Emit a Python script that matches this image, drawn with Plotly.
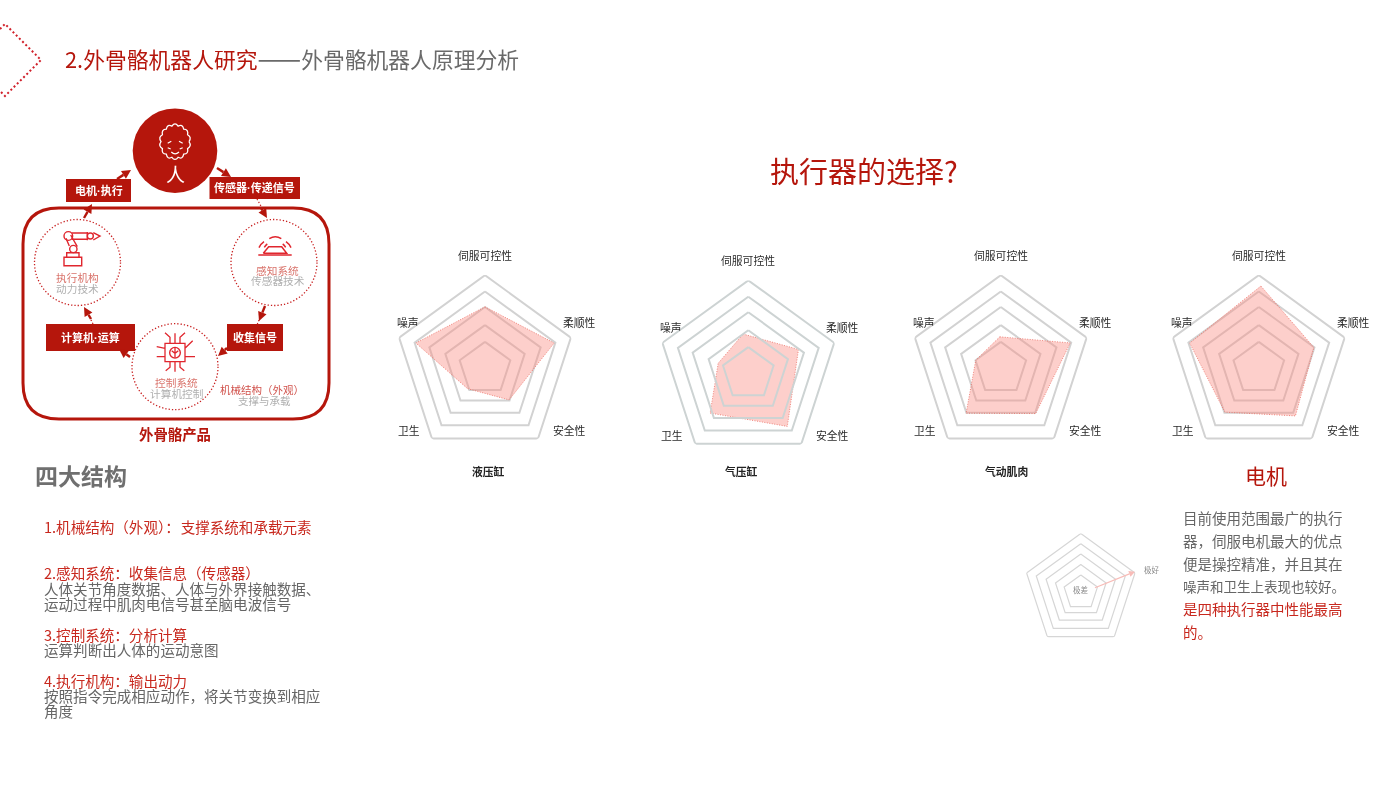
import math
import plotly.graph_objects as go

RED = "#b5160c"
TXTRED = "#c8281e"
GRAY = "#666666"
FONT = "Noto Sans CJK SC"
ICON = "#e0262e"

# ---------- data ----------
axis_labels = ["伺服可控性", "柔顺性", "安全性", "卫生", "噪声"]
chart_names = ["液压缸", "气压缸", "气动肌肉", "电机"]
axis_angles = [0, 72, 144, 216, 288]
ring_levels = [26.6, 41.7, 58.5, 74, 90.3]
ring_drops = [3, 1.3, 0, 0, 0]

hydraulic_r = [58.7, 72.7, 42, 29, 72.7]
hydraulic_t = [0, 72, 145, 217, 288]
pneumatic_r = [37, 54.5, 68, 57, 31]
pneumatic_t = [352, 67, 145, 222, 284]
muscle_r = [28.7, 73, 59.4, 59, 25.6]
muscle_t = [358, 72, 144, 216, 282]
motor_r = [79.5, 58, 62.3, 57.7, 72.7]
motor_t = [1.5, 72, 144, 216, 288]

key_rings = [17.5, 26.6, 36.5, 46.8, 57]
key_drops = [2, 0.7, 0, 0, 0]

left_lines = [
    "1.机械结构（外观）：\u200a支撑系统和承载元素",
    "2.感知系统：收集信息（传感器）",
    "人体关节角度数据、人体与外界接触数据、",
    "运动过程中肌肉电信号甚至脑电波信号",
    "3.控制系统：分析计算",
    "运算判断出人体的运动意图",
    "4.执行机构：输出动力",
    "按照指令完成相应动作，将关节变换到相应",
    "角度",
]
right_lines = [
    "目前使用范围最广的执行",
    "器，伺服电机最大的优点",
    "便是操控精准，并且其在",
    "噪声和卫生上表现也较好。",
    "是四种执行器中性能最高",
    "的。",
]

# ---------- figure ----------
W, H = 1400, 788
fig = go.Figure()
fig.add_trace(go.Scatter(x=[0, W], y=[0, H], mode="markers", opacity=0, hoverinfo="skip", showlegend=False))

layout = dict(
    width=W, height=H, margin=dict(l=0, r=0, t=0, b=0),
    paper_bgcolor="white", plot_bgcolor="white", showlegend=False,
    font=dict(family=FONT),
    xaxis=dict(range=[0, W], visible=False, domain=[0, 1], fixedrange=True),
    yaxis=dict(range=[H, 0], visible=False, domain=[0, 1], fixedrange=True),
)


def polar_layout(cx, cy, R):
    return dict(
        domain=dict(x=[(cx - R) / W, (cx + R) / W], y=[1 - (cy + R) / H, 1 - (cy - R) / H]),
        bgcolor="rgba(0,0,0,0)",
        radialaxis=dict(visible=False, range=[0, R]),
        angularaxis=dict(visible=False, direction="clockwise", rotation=90, thetaunit="degrees"),
    )


def add_rings(levels, drops, sub, width, color):
    for lv, dr in zip(levels, drops):
        rr, tt = [], []
        for a in axis_angles + axis_angles[:1]:
            px = lv * math.sin(math.radians(a))
            py = -lv * math.cos(math.radians(a)) + dr
            rr.append(math.hypot(px, py))
            tt.append(math.degrees(math.atan2(px, -py)))
        fig.add_trace(go.Scatterpolar(
            r=rr, theta=tt, subplot=sub, mode="lines",
            line=dict(color=color, width=width), hoverinfo="skip", showlegend=False))


anns = []


def text(x, y, s, size=11, color="#333333", anchor="center", bold=False):
    if bold:
        s = "<b>" + s + "</b>"
    anns.append(dict(x=x - (2 if anchor == "left" else 0), y=y - 0.7, xref="x", yref="y", text=s, showarrow=False,
                     xanchor=anchor, yanchor="middle",
                     font=dict(family=FONT, size=size, color=color), align=anchor))


label_off = [(0, -110), (94.5, -43), (84.5, 65), (-76, 65), (-77, -43)]
charts = [
    (485, 365.5, hydraulic_r, hydraulic_t, False, 488, 472),
    (748.3, 370.7, pneumatic_r, pneumatic_t, True, 741, 472),
    (1000.8, 365.5, muscle_r, muscle_t, False, 1006, 472),
    (1258.8, 365.5, motor_r, motor_t, False, 1266, 476),
]
for i, (cx, cy, r, t, rings_top, nx, ny) in enumerate(charts):
    sub = "polar" if i == 0 else f"polar{i + 1}"
    layout[sub] = polar_layout(cx, cy, 90.5)
    if not rings_top:
        add_rings(ring_levels, ring_drops, sub, 2, "#d2d2d2")
    fig.add_trace(go.Scatterpolar(
        r=r + r[:1], theta=t + t[:1], subplot=sub, mode="lines", fill="toself",
        fillcolor="rgba(250,140,130,0.42)", line=dict(color="rgba(235,110,100,0.8)", width=1, dash="1px,1.5px"),
        hoverinfo="skip", showlegend=False))
    if rings_top:
        add_rings(ring_levels, ring_drops, sub, 2, "#cdd3d3")
    for lab, (dx, dy) in zip(axis_labels, label_off):
        text(cx + dx, cy + dy, lab, size=10.8, color="#2a2a2a")
    if i < 3:
        text(nx, ny, chart_names[i], size=10.8, color="#222222", bold=True)
    else:
        text(nx, ny, chart_names[i], size=21, color=RED)

shapes = []


def arrow(tail, head, color=RED, width=2.4, hl=9, hw=4.5):
    dx, dy = head[0] - tail[0], head[1] - tail[1]
    L = math.hypot(dx, dy)
    ux, uy = dx / L, dy / L
    bx, by = head[0] - ux * hl, head[1] - uy * hl
    shapes.append(dict(type="line", x0=tail[0], y0=tail[1], x1=bx, y1=by, xref="x", yref="y",
                       line=dict(color=color, width=width)))
    shapes.append(dict(type="path", xref="x", yref="y", fillcolor=color, line=dict(width=0),
                       path=f"M {head[0]},{head[1]} L {bx - uy * hw:.1f},{by + ux * hw:.1f} "
                            f"L {bx + uy * hw:.1f},{by - ux * hw:.1f} Z"))


# key radar
layout["polar5"] = polar_layout(1080.8, 590.5, 57.2)
add_rings(key_rings, key_drops, "polar5", 1.2, "#d6d6d6")
text(1080.8, 590.5, "极差", size=7.5, color="#888888")
text(1152, 570.5, "极好", size=7.5, color="#888888")
arrow((1095, 587.7), (1135, 571.7), color="#f8bcb8", width=1.2, hl=6, hw=3)

# ---------- titles & text ----------
text(65, 57.5, f"<span style='color:{RED}'>2.外骨骼机器人研究</span><span style='font-size:26px'>——</span>外骨骼机器人原理分析",
     size=21.8, color="#6a6a6a", anchor="left")
text(864, 171, "执行器的选择?", size=29, color=RED)
text(35, 476, "四大结构", size=23, color="#6f6f6f", anchor="left", bold=True)

left_y = [527, 573, 589, 604, 635, 650, 681, 696, 711]
left_c = [TXTRED, TXTRED, GRAY, GRAY, TXTRED, GRAY, TXTRED, GRAY, GRAY]
for s, y, c in zip(left_lines, left_y, left_c):
    text(44, y, s, size=14.55, color=c, anchor="left")
right_y = [518, 541, 564, 587, 609, 632]
right_c = [GRAY, GRAY, GRAY, GRAY, TXTRED, TXTRED]
right_s = [14.5, 14.5, 14.5, 13.5, 14.5, 14.5]
for s, y, c, fs in zip(right_lines, right_y, right_c, right_s):
    text(1183, y, s, size=fs, color=c, anchor="left")


# ---------- diagram ----------
def z(px, py):
    return f"{px / 3:.1f},{100 + py / 3:.1f}"


def zpath(cmd_pts, color=ICON, width=1.4, fill=None):
    out = []
    for c, pts in cmd_pts:
        if c == "Z":
            out.append("Z")
        elif c == "M":
            out.append("M " + z(*pts[0]))
            for p in pts[1:]:
                out.append("L " + z(*p))
        else:
            out.append(c + " " + " ".join(z(*p) for p in pts))
    s = dict(type="path", path=" ".join(out), xref="x", yref="y", line=dict(color=color, width=width))
    if fill:
        s["fillcolor"] = fill
    shapes.append(s)


def circle(cx, cy, r, color=ICON, width=1.4, dash=None, fill=None):
    s = dict(type="circle", x0=cx - r, x1=cx + r, y0=cy - r, y1=cy + r, xref="x", yref="y",
             line=dict(color=color, width=width, dash=dash or "solid"))
    if fill:
        s["fillcolor"] = fill
    shapes.append(s)


def zcircle(cx, cy, r, **k):
    circle(cx / 3, 100 + cy / 3, r / 3, **k)


DOT = "<span style='font-family:Liberation Sans'>·</span>"


def rect(x0, y0, x1, y1, label):
    shapes.append(dict(type="rect", x0=x0, x1=x1, y0=y0, y1=y1, xref="x", yref="y",
                       fillcolor=RED, line=dict(width=0)))
    text((x0 + x1) / 2, (y0 + y1) / 2, label.replace("·", DOT), size=11, color="white", bold=True)


# rounded container
x0, y0, x1, y1, c = 23, 208, 329, 419, 36
shapes.append(dict(type="path", xref="x", yref="y", line=dict(color=RED, width=3),
                   path=f"M {x0 + c},{y0} L {x1 - c},{y0} Q {x1},{y0} {x1},{y0 + c} L {x1},{y1 - c} Q {x1},{y1} {x1 - c},{y1} "
                        f"L {x0 + c},{y1} Q {x0},{y1} {x0},{y1 - c} L {x0},{y0 + c} Q {x0},{y0} {x0 + c},{y0} Z"))

# person
circle(175, 150.7, 42.3, color=RED, width=0, fill=RED)
text(175, 174, "人", size=19, color="white")
# hair (scalloped outline)
n = 14
pts = [(525 + 42 * math.cos(2 * math.pi * k / n), 125 + 48 * math.sin(2 * math.pi * k / n)) for k in range(n + 1)]
seg = [("M", [pts[0]])]
for k in range(n):
    a = (pts[k][0] + pts[k + 1][0]) / 2
    b = (pts[k][1] + pts[k + 1][1]) / 2
    ox, oy = a - 525, b - 125
    seg.append(("Q", [(a + ox * 0.28, b + oy * 0.28), pts[k + 1]]))
zpath(seg, color="white", width=1.3)
zpath([("M", [(503, 130), (514, 124)]), ("M", [(537, 124), (548, 130)]),
       ("M", [(503, 143), (512, 147)]), ("M", [(539, 147), (548, 143)]),
       ("M", [(514, 156)]), ("Q", [(525, 167), (537, 156)])], color="white", width=1.2)

# boxes
rect(66, 179, 131, 202, "电机·执行")
rect(209.5, 177, 300, 199, "传感器·传递信号")
rect(46, 324, 135, 351, "计算机·运算")
rect(227, 324, 283, 351, "收集信号")

# dotted circles
for cx, cy in [(77.5, 262.5), (274, 262.5), (175, 366.7)]:
    circle(cx, cy, 43, color="#c82020", width=1.3, dash="1.3px,2px")

# dotted arrow tails
for a, b in [((257, 199), (262, 208)), ((259, 320), (257, 325)), ((93, 324), (90, 318))]:
    shapes.append(dict(type="line", x0=a[0], y0=a[1], x1=b[0], y1=b[1], xref="x", yref="y",
                       line=dict(color="#c82020", width=1.2, dash="1.3px,2px")))

# arrows (tail -> head)
for tail, head in [((84, 218), (92, 204)), ((117, 179), (131, 170)), ((217, 168), (231, 177)),
                   ((261, 208), (267, 218)), ((265, 306), (259, 321)), ((227, 348), (218, 356)),
                   ((130, 357), (119, 349)), ((91, 319), (84, 307))]:
    arrow(tail, head)

# robot arm icon
zpath([("M", [(192, 497), (245, 497), (245, 472), (192, 472)]), ("Z", []),
       ("M", [(200, 472), (200, 458), (237, 458), (237, 472)]),
       ("M", [(198, 415), (208, 438)]), ("M", [(212, 405), (232, 440)]),
       ("M", [(215, 399), (262, 399)]), ("M", [(215, 418), (262, 418)]),
       ("M", [(262, 396), (262, 421)]),
       ("M", [(280, 398), (300, 408), (280, 420)])])
zcircle(205, 408, 13)
zcircle(220, 447, 11)
zcircle(271, 408, 9)
# sensor icon
zpath([("M", [(775, 465), (875, 465)]), ("M", [(790, 460), (806, 440), (845, 440), (860, 460), (790, 460)]),
       ("M", [(808, 416)]), ("Q", [(826, 405), (844, 416)]),
       ("M", [(792, 425)]), ("Q", [(783, 431), (777, 443)]),
       ("M", [(858, 425)]), ("Q", [(867, 431), (873, 443)]),
       ("M", [(802, 432)]), ("Q", [(797, 435), (793, 442)]),
       ("M", [(848, 432)]), ("Q", [(853, 435), (857, 442)])], width=1.5)
# chip icon
zpath([("M", [(495, 730), (555, 730), (555, 785), (495, 785)]), ("Z", []),
       ("M", [(510, 730), (510, 712), (495, 698)]), ("M", [(525, 730), (525, 700)]),
       ("M", [(540, 730), (540, 712), (555, 698)]),
       ("M", [(510, 785), (510, 802), (497, 812)]), ("M", [(525, 785), (525, 815)]),
       ("M", [(540, 785), (540, 802), (553, 812)]),
       ("M", [(495, 745), (470, 740)]), ("M", [(495, 770), (470, 770)]),
       ("M", [(555, 745), (578, 722)]), ("M", [(555, 770), (585, 770)]),
       ("M", [(525, 744), (525, 772)]), ("M", [(515, 752), (525, 760), (535, 752)]),
       ], width=1.3)
zcircle(525, 758, 16)
text(77.7, 278, "执行机构", size=10.7, color="#d9736b")
text(77.7, 288.7, "动力技术", size=10.7, color="#b0b0b0")
text(277, 270.7, "感知系统", size=10.7, color="#d9736b")
text(277.7, 281.3, "传感器技术", size=10.7, color="#b0b0b0")
text(176, 383.3, "控制系统", size=10.7, color="#d9736b")
text(176, 394, "计算机控制", size=10.7, color="#b0b0b0")
text(261.7, 390, "机械结构（外观）", size=10.5, color="#d0504a")
text(264, 401, "支撑与承载", size=10.5, color="#b0b0b0")
text(175, 434, "外骨骼产品", size=14.4, color=RED, bold=True)

# corner decoration
shapes.append(dict(type="path", path="M 0,29 L 5,24 L 41,60 L 5,96 L 0,91", xref="x", yref="y",
                   line=dict(color="#d0202a", width=2, dash="2px,2.5px")))

layout["shapes"] = shapes
layout["annotations"] = anns
fig.update_layout(**layout)
fig.write_html("out.html", config=dict(displayModeBar=False),
               post_script="document.body.style.margin='0';document.body.style.overflow='hidden';")
